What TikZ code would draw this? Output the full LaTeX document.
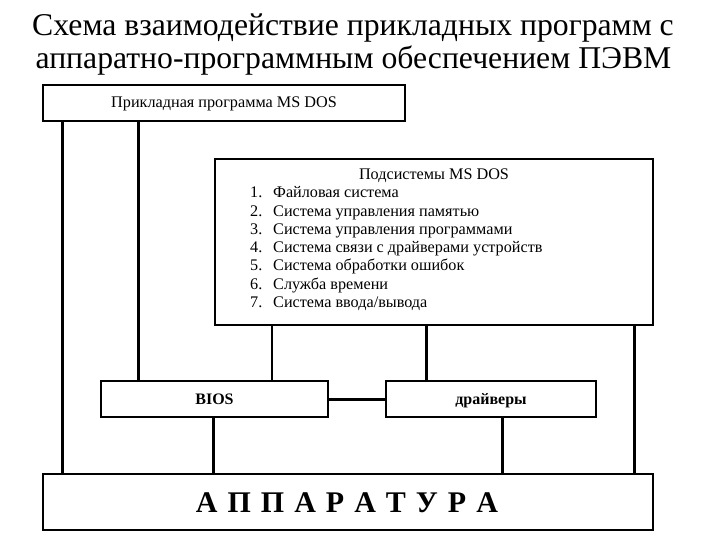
\documentclass[tikz,border=0pt]{standalone}
\usepackage{fontspec}
\IfFontExistsTF{LiberationSerif-Regular.ttf}
  {\setmainfont{LiberationSerif-Regular.ttf}[BoldFont=LiberationSerif-Bold.ttf]}
  {\setmainfont{Liberation Serif}}
\begin{document}
\begin{tikzpicture}[x=1pt,y=-1pt,
  box/.style={draw,line width=1.3pt,inner sep=0pt,anchor=center},
  thick line/.style={line width=3pt},
  med line/.style={line width=2.2pt},
  txt/.style={inner sep=0pt,font=\fontsize{16.2}{18}\selectfont},
  item/.style={txt,anchor=base west},
  titletxt/.style={inner sep=0pt,anchor=base,font=\fontsize{31.7}{33}\selectfont}]
\useasboundingbox (0,0) rectangle (720,540);
% title
\node[titletxt] (title1) at (353,36) {Схема взаимодействие прикладных программ с};
\node[titletxt] (title2) at (353.5,68.5) {аппаратно-программным обеспечением ПЭВМ};
% boxes
\node[box,minimum width=362pt,minimum height=36pt] (top) at (224,103) {};
\node[txt,anchor=base] (toptext) at (224,108) {Прикладная программа MS DOS};
\node[box,minimum width=438pt,minimum height=166pt] (sub) at (434,242) {};
\node[box,minimum width=227pt,minimum height=36pt] (bios) at (214.5,399) {};
\node[txt,anchor=base,font=\fontsize{16}{18}\selectfont\bfseries] (biostext) at (214.5,404.5) {BIOS};
\node[box,minimum width=210pt,minimum height=36pt] (drv) at (491,399) {};
\node[txt,anchor=base,font=\fontsize{16}{18}\selectfont\bfseries] (drvtext) at (491,404.5) {драйверы};
\node[box,minimum width=610pt,minimum height=56pt] (app) at (348,502) {};
\node[inner sep=0pt,anchor=base,font=\fontsize{30}{32}\selectfont\bfseries] (apptext) at (347,512) {А\,\,П\,\,П\,\,А\,\,Р\,\,А\,\,Т\,\,У\,\,Р\,\,А};
% subsystem text
\node[txt,anchor=base] (subhead) at (434,180) {Подсистемы MS DOS};
\foreach \n/\t [count=\i from 0] in {1/{Файловая система},2/{Система управления памятью},3/{Система управления программами},4/{Система связи с драйверами устройств},5/{Система обработки ошибок},6/{Служба времени},7/{Система ввода/вывода}}{
  \node[item] (num\n) at (250,198+18.2*\i) {\n.};
  \node[item] (it\n) at (273,198+18.2*\i) {\t};
}
% connector columns
\coordinate (c1) at (62,0);
\coordinate (c2) at (138,0);
\coordinate (c3) at (272,0);
\coordinate (c4) at (426,0);
\coordinate (c5) at (634,0);
\coordinate (c6) at (213,0);
\coordinate (c7) at (502,0);
\draw[thick line] (top.south -| c1) -- (app.north -| c1);
\draw[thick line] (top.south -| c2) -- (bios.north -| c2);
\draw[med line] (sub.south -| c3) -- (bios.north -| c3);
\draw[thick line] (sub.south -| c4) -- (drv.north -| c4);
\draw[thick line] (sub.south -| c5) -- (app.north -| c5);
\draw[thick line] (bios.east) -- (drv.west);
\draw[thick line] (bios.south -| c6) -- (app.north -| c6);
\draw[thick line] (drv.south -| c7) -- (app.north -| c7);
\end{tikzpicture}
\end{document}
